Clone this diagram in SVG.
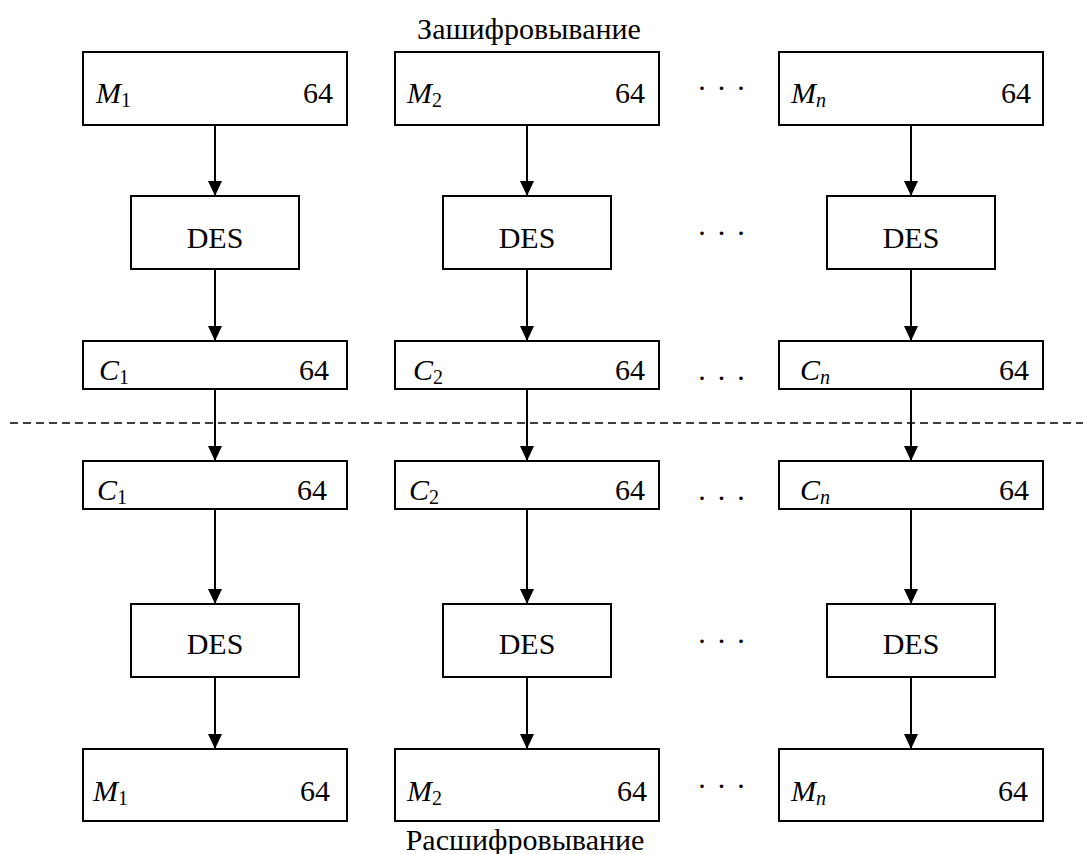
<svg xmlns="http://www.w3.org/2000/svg" width="1083" height="854" viewBox="0 0 1083 854">
<style>
.box{fill:#fff;stroke:#000;stroke-width:2}
.c{stroke:#000;stroke-width:2;fill:none}
.dash{stroke:#000;stroke-width:1.5;stroke-dasharray:8 5;fill:none}
</style>
<defs>
<marker id="ah" markerUnits="userSpaceOnUse" markerWidth="15" markerHeight="14" refX="15" refY="7" orient="auto">
<path d="M0,0 L15,7 L0,14 z" fill="#000"/>
</marker>
</defs>
<rect x="0" y="0" width="1083" height="854" fill="#fff"/>
<g id="titles" font-family="Liberation Serif" font-size="60" fill="#000" text-anchor="middle" transform="scale(0.5)">
<text x="1058" y="78">Зашифровывание</text>
<text x="1050" y="1700">Расшифровывание</text>
</g>
<line id="separator" class="dash" x1="10" y1="423" x2="1083" y2="423"/>
<g id="connectors">
<line class="c" x1="215" y1="125" x2="215" y2="196" marker-end="url(#ah)"/>
<line class="c" x1="215" y1="269" x2="215" y2="341" marker-end="url(#ah)"/>
<line class="c" x1="215" y1="389" x2="215" y2="461" marker-end="url(#ah)"/>
<line class="c" x1="215" y1="509" x2="215" y2="604" marker-end="url(#ah)"/>
<line class="c" x1="215" y1="677" x2="215" y2="749" marker-end="url(#ah)"/>
<line class="c" x1="527" y1="125" x2="527" y2="196" marker-end="url(#ah)"/>
<line class="c" x1="527" y1="269" x2="527" y2="341" marker-end="url(#ah)"/>
<line class="c" x1="527" y1="389" x2="527" y2="461" marker-end="url(#ah)"/>
<line class="c" x1="527" y1="509" x2="527" y2="604" marker-end="url(#ah)"/>
<line class="c" x1="527" y1="677" x2="527" y2="749" marker-end="url(#ah)"/>
<line class="c" x1="911" y1="125" x2="911" y2="196" marker-end="url(#ah)"/>
<line class="c" x1="911" y1="269" x2="911" y2="341" marker-end="url(#ah)"/>
<line class="c" x1="911" y1="389" x2="911" y2="461" marker-end="url(#ah)"/>
<line class="c" x1="911" y1="509" x2="911" y2="604" marker-end="url(#ah)"/>
<line class="c" x1="911" y1="677" x2="911" y2="749" marker-end="url(#ah)"/>
</g>
<g id="nodes" font-family="Liberation Serif" font-size="60" fill="#000">
<g id="m1top"><rect class="box" x="83" y="52" width="264" height="73"/><g transform="scale(0.5)"><text x="192" y="206" font-style="italic">M<tspan font-size="40" font-style="normal" dy="8">1</tspan></text><text x="666" y="206" text-anchor="end">64</text></g></g>
<g id="m2top"><rect class="box" x="395" y="52" width="264" height="73"/><g transform="scale(0.5)"><text x="814" y="206" font-style="italic">M<tspan font-size="40" font-style="normal" dy="8">2</tspan></text><text x="1290" y="206" text-anchor="end">64</text></g></g>
<g id="mntop"><rect class="box" x="779" y="52" width="264" height="73"/><g transform="scale(0.5)"><text x="1582" y="206" font-style="italic">M<tspan font-size="40" dy="8">n</tspan></text><text x="2062" y="206" text-anchor="end">64</text></g></g>
<g id="des1top"><rect class="box" x="131" y="196" width="168" height="73"/><g transform="scale(0.5)"><text x="430" y="496" text-anchor="middle">DES</text></g></g>
<g id="des2top"><rect class="box" x="443" y="196" width="168" height="73"/><g transform="scale(0.5)"><text x="1054" y="496" text-anchor="middle">DES</text></g></g>
<g id="desntop"><rect class="box" x="827" y="196" width="168" height="73"/><g transform="scale(0.5)"><text x="1822" y="496" text-anchor="middle">DES</text></g></g>
<g id="c1top"><rect class="box" x="83" y="341" width="264" height="48"/><g transform="scale(0.5)"><text x="198" y="760" font-style="italic">C<tspan font-size="40" font-style="normal" dy="8">1</tspan></text><text x="658" y="760" text-anchor="end">64</text></g></g>
<g id="c2top"><rect class="box" x="395" y="341" width="264" height="48"/><g transform="scale(0.5)"><text x="826" y="760" font-style="italic">C<tspan font-size="40" font-style="normal" dy="8">2</tspan></text><text x="1290" y="760" text-anchor="end">64</text></g></g>
<g id="cntop"><rect class="box" x="779" y="341" width="264" height="48"/><g transform="scale(0.5)"><text x="1600" y="760" font-style="italic">C<tspan font-size="40" dy="8">n</tspan></text><text x="2058" y="760" text-anchor="end">64</text></g></g>
<g id="c1bot"><rect class="box" x="83" y="461" width="264" height="48"/><g transform="scale(0.5)"><text x="194" y="1000" font-style="italic">C<tspan font-size="40" font-style="normal" dy="8">1</tspan></text><text x="654" y="1000" text-anchor="end">64</text></g></g>
<g id="c2bot"><rect class="box" x="395" y="461" width="264" height="48"/><g transform="scale(0.5)"><text x="818" y="1000" font-style="italic">C<tspan font-size="40" font-style="normal" dy="8">2</tspan></text><text x="1290" y="1000" text-anchor="end">64</text></g></g>
<g id="cnbot"><rect class="box" x="779" y="461" width="264" height="48"/><g transform="scale(0.5)"><text x="1600" y="1000" font-style="italic">C<tspan font-size="40" dy="8">n</tspan></text><text x="2058" y="1000" text-anchor="end">64</text></g></g>
<g id="des1bot"><rect class="box" x="131" y="604" width="168" height="73"/><g transform="scale(0.5)"><text x="430" y="1308" text-anchor="middle">DES</text></g></g>
<g id="des2bot"><rect class="box" x="443" y="604" width="168" height="73"/><g transform="scale(0.5)"><text x="1054" y="1308" text-anchor="middle">DES</text></g></g>
<g id="desnbot"><rect class="box" x="827" y="604" width="168" height="73"/><g transform="scale(0.5)"><text x="1822" y="1308" text-anchor="middle">DES</text></g></g>
<g id="m1bot"><rect class="box" x="83" y="749" width="264" height="72"/><g transform="scale(0.5)"><text x="186" y="1602" font-style="italic">M<tspan font-size="40" font-style="normal" dy="8">1</tspan></text><text x="660" y="1602" text-anchor="end">64</text></g></g>
<g id="m2bot"><rect class="box" x="395" y="749" width="264" height="72"/><g transform="scale(0.5)"><text x="814" y="1602" font-style="italic">M<tspan font-size="40" font-style="normal" dy="8">2</tspan></text><text x="1294" y="1602" text-anchor="end">64</text></g></g>
<g id="mnbot"><rect class="box" x="779" y="749" width="264" height="72"/><g transform="scale(0.5)"><text x="1582" y="1602" font-style="italic">M<tspan font-size="40" dy="8">n</tspan></text><text x="2056" y="1602" text-anchor="end">64</text></g></g>
</g>
<g id="dots" font-family="Liberation Serif" font-size="60" fill="#000" text-anchor="middle" letter-spacing="2" transform="scale(0.5)">
<text x="1444" y="196">· · ·</text>
<text x="1444" y="486">· · ·</text>
<text x="1444" y="776">· · ·</text>
<text x="1444" y="1016">· · ·</text>
<text x="1444" y="1302">· · ·</text>
<text x="1444" y="1592">· · ·</text>
</g>
</svg>
